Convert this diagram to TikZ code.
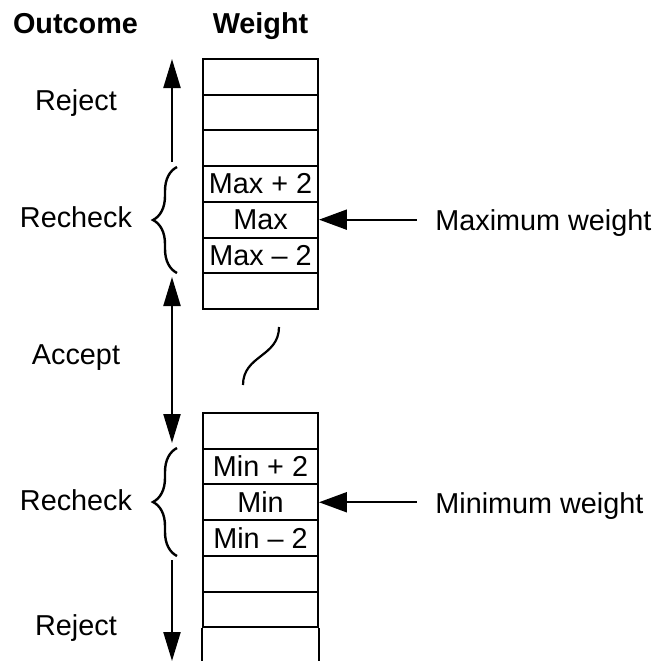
\documentclass[tikz,border=0pt]{standalone}
\usepackage{fontspec}
\setmainfont{Liberation Sans}
\usetikzlibrary{arrows.meta,positioning,decorations.pathreplacing}
\tikzstyle{arrow} = [line width=1.1pt,-{Triangle[length=14.5pt,width=8.5pt]}]
\tikzstyle{pointer} = [line width=1.1pt,-{Triangle[length=14pt,width=10pt]}]
\tikzstyle{brace} = [line width=1.2pt,decorate,decoration={brace,amplitude=12pt}]

\begin{document}
\begin{tikzpicture}[
    x=0.5pt, y=-0.5pt,
    every node/.style={font=\fontsize{14.4}{17}\selectfont, inner sep=0pt},
    cell/.style={rectangle, draw, line width=1pt, minimum width=57.5pt, minimum height=17.85pt},
    head/.style={font=\fontsize{14.4}{17}\selectfont\bfseries, anchor=base},
    outcome/.style={anchor=base}
]
\useasboundingbox (0,0) rectangle (657,661);

% Headings
\node[head] (outhead) at (75.5,33) {Outcome};
\node[head] (wthead) at (260.5,33) {Weight};

% Upper weight column
\foreach \i/\txt in {0/,1/,2/,3/Max + 2,4/Max,5/Max -- 2,6/}
  \node[cell] (up\i) at (260.5,{59+35.7*\i+17.85}) {\txt};

% Lower weight column (runs off the bottom)
\foreach \i/\txt in {0/,1/Min + 2,2/Min,3/Min -- 2,4/,5/}
  \node[cell] (lo\i) at (260.5,{413+35.7*\i+17.85}) {\txt};
\draw[line width=1pt] (lo5.south west) -- +(0,50)
  (lo5.south east) -- +(0,50);

% Break mark
\draw[line width=1.1pt] (243,385) .. controls (243,355) and (279,357) .. (279,327);

% Outcomes (left)
\node[outcome] (rejup) at (76,110) {Reject};
\node[outcome] (recup) at (76,227) {Recheck};
\node[outcome] (accept) at (76,364) {Accept};
\node[outcome] (reclo) at (76,510) {Recheck};
\node[outcome] (rejlo) at (76,635) {Reject};

% Braces
\draw[brace] (177,273) -- (177,167);
\draw[brace] (177,556) -- (177,448);

% Outcome arrows
\coordinate (rejupfoot) at (172,162);
\coordinate (rejuptip) at (172,59);
\coordinate (acctop) at (172,277);
\coordinate (accbot) at (172,443);
\coordinate (rejlofoot) at (172,560);
\coordinate (rejlotip) at (172,661);
\draw[arrow] (rejupfoot) -- (rejuptip);
\draw[arrow, {Triangle[length=14.5pt,width=8.5pt]}-{Triangle[length=14.5pt,width=8.5pt]}] (accbot) -- (acctop);
\draw[arrow] (rejlofoot) -- (rejlotip);

% Limits (right)
\node[anchor=base west] (maxw) at (435,230) {Maximum weight};
\node[anchor=base west] (minw) at (435,513) {Minimum weight};
\draw[pointer] ([xshift=-9pt]maxw.west |- up4.east) -- (up4.east);
\draw[pointer] ([xshift=-9pt]minw.west |- lo2.east) -- (lo2.east);

\end{tikzpicture}
\end{document}
